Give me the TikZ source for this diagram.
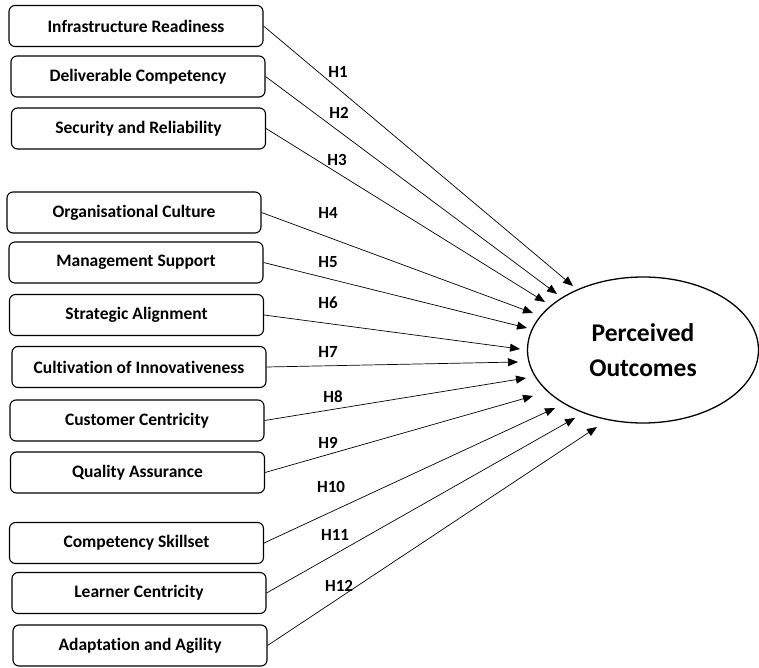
\documentclass[tikz,border=0pt]{standalone}
\usepackage{fontspec}
\setmainfont{Carlito}[Ligatures=NoCommon]
\usetikzlibrary{arrows.meta,shapes.geometric}
\begin{document}
\begin{tikzpicture}[x=1pt,y=-1pt]
	\tikzstyle{factor}=[draw, rounded corners=6pt, line width=1.1pt, minimum width=254pt, minimum height=41pt, font=\fontsize{17.5}{19}\selectfont\bfseries]
	\tikzstyle{outcome}=[draw, ellipse, line width=1.3pt, minimum width=231pt, minimum height=146pt, align=center, font=\fontsize{25.5}{35}\selectfont\bfseries]
	\tikzstyle{hyp}=[font=\fontsize{17}{19}\selectfont\bfseries]
	\tikzstyle{link}=[line width=0.7pt, -{Triangle[length=10pt,width=8pt]}]
	\useasboundingbox (0,0) rectangle (759,668);
	% predictors
	\node [factor] (infra) at (136,26) {Infrastructure Readiness};
	\node [factor] (deliv) at (138,76.5) {Deliverable Competency};
	\node [factor] (secur) at (138.5,128.5) {Security and Reliability};
	\node [factor] (orgcult) at (134,212.5) {Organisational Culture};
	\node [factor] (mgmt) at (136,262.5) {Management Support};
	\node [factor] (strat) at (136.5,315) {Strategic Alignment};
	\node [factor] (innov) at (139,367) {Cultivation of Innovativeness};
	\node [factor] (cust) at (137,420.5) {Customer Centricity};
	\node [factor] (quality) at (137.5,472.5) {Quality Assurance};
	\node [factor] (skill) at (136.5,543) {Competency Skillset};
	\node [factor] (learner) at (139,593) {Learner Centricity};
	\node [factor] (agile) at (140,645.5) {Adaptation and Agility};
	% outcome
	\node [outcome] (outc) at (643,350) {Perceived\\Outcomes};
	% arrow tips
	\coordinate (t1) at (573,286);
	\coordinate (t2) at (557,294);
	\coordinate (t3) at (545,302);
	\coordinate (t4) at (533,313);
	\coordinate (t5) at (527,328);
	\coordinate (t6) at (520,349);
	\coordinate (t7) at (518,362);
	\coordinate (t8) at (526,378);
	\coordinate (t9) at (533,396);
	\coordinate (t10) at (555,408);
	\coordinate (t11) at (575,418);
	\coordinate (t12) at (597,427);
	\draw [link] (infra.east) -- (t1);
	\draw [link] (deliv.east) -- (t2);
	\draw [link] (secur.east) -- (t3);
	\draw [link] (orgcult.east) -- (t4);
	\draw [link] (mgmt.east) -- (t5);
	\draw [link] (strat.east) -- (t6);
	\draw [link] (innov.east) -- (t7);
	\draw [link] (cust.east) -- (t8);
	\draw [link] (quality.east) -- (t9);
	\draw [link] (skill.east) -- (t10);
	\draw [link] (learner.east) -- (t11);
	\draw [link] (agile.east) -- (t12);
	% hypothesis labels
	\node [hyp] (h1) at (338,72) {H1};
	\node [hyp] (h2) at (339,113) {H2};
	\node [hyp] (h3) at (337,160) {H3};
	\node [hyp] (h4) at (328,213) {H4};
	\node [hyp] (h5) at (328,262) {H5};
	\node [hyp] (h6) at (328,303) {H6};
	\node [hyp] (h7) at (328,352) {H7};
	\node [hyp] (h8) at (333,397) {H8};
	\node [hyp] (h9) at (328,443) {H9};
	\node [hyp] (h10) at (331,487) {H10};
	\node [hyp] (h11) at (335,535) {H11};
	\node [hyp] (h12) at (339,586) {H12};
\end{tikzpicture}
\end{document}
